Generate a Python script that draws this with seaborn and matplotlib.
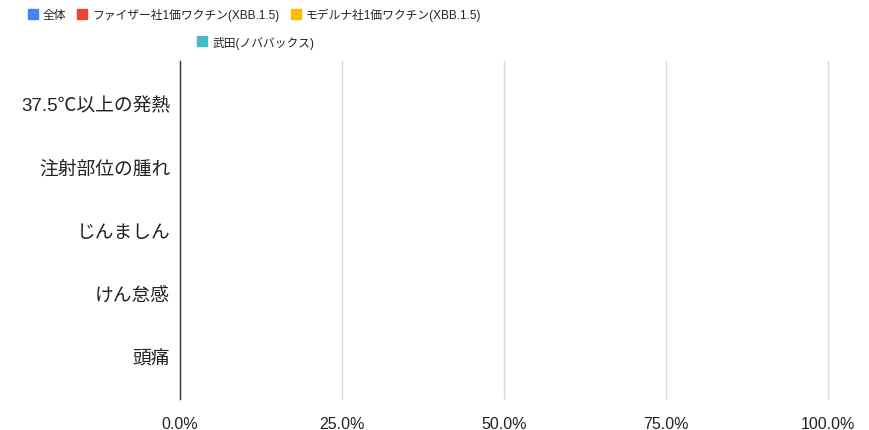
import numpy as np
import pandas as pd
import matplotlib
matplotlib.use("Agg")
import matplotlib.pyplot as plt
from matplotlib.lines import Line2D
from matplotlib.ticker import PercentFormatter
import seaborn as sns

symptoms = ["37.5℃以上の発熱", "注射部位の腫れ", "じんましん", "けん怠感", "頭痛"]
groups = ["全体", "ファイザー社1価ワクチン(XBB.1.5)", "モデルナ社1価ワクチン(XBB.1.5)", "武田(ノババックス)"]
# すべて0%(バーは表示されない)
all_vals = [0.0, 0.0, 0.0, 0.0, 0.0]
pfizer_vals = [0.0, 0.0, 0.0, 0.0, 0.0]
moderna_vals = [0.0, 0.0, 0.0, 0.0, 0.0]
takeda_vals = [0.0, 0.0, 0.0, 0.0, 0.0]
colors = ["#4285F4", "#EA4335", "#FBBC04", "#46BDC6"]

df = pd.DataFrame({
    "symptom": symptoms * 4,
    "group": np.repeat(groups, len(symptoms)),
    "value": all_vals + pfizer_vals + moderna_vals + takeda_vals,
})

sns.set_style("white")
plt.rcParams["font.family"] = ["Liberation Sans", "Noto Sans CJK JP", "DejaVu Sans"]

fig = plt.figure(figsize=(8.69, 4.31), dpi=100)
ax = fig.add_axes([180 / 869, 1 - 400 / 431, 648 / 869, 338 / 431])

sns.barplot(data=df, y="symptom", x="value", hue="group", palette=colors,
            orient="h", ax=ax, legend=False, saturation=1)

ax.set_xlim(0, 1)
ax.set_ylim(4.67, -0.68)
ax.set_xticks([0, 0.25, 0.5, 0.75, 1.0])
ax.xaxis.set_major_formatter(PercentFormatter(1.0, decimals=1))
ax.grid(axis="x", color="#d9d9d9", lw=1)
for gl in ax.get_xgridlines():
    gl.set_clip_on(False)
ax.set_axisbelow(True)
for s in ["top", "right", "bottom"]:
    ax.spines[s].set_visible(False)
ax.spines["left"].set_color("#333333")
ax.spines["left"].set_linewidth(1)
ax.spines["left"].set_zorder(3)
ax.tick_params(axis="x", length=0, pad=12, labelsize=11.5, labelcolor="#222222")
ax.tick_params(axis="y", length=0, pad=7, labelsize=13.5, labelcolor="#222222")
ax.set_xlabel("")
ax.set_ylabel("")

handles = [Line2D([], [], marker="s", ls="", color=c, markersize=7) for c in colors]
leg_kw = dict(frameon=False, fontsize=8.5, handlelength=0.7, handletextpad=0.5,
              columnspacing=1.0, borderpad=0, loc="center")
leg1 = fig.legend(handles[:3], groups[:3], ncol=3,
                  bbox_to_anchor=(255 / 869, 1 - 15 / 431), **leg_kw)
leg2 = fig.legend(handles[3:], groups[3:], ncol=1,
                  bbox_to_anchor=(256 / 869, 1 - 43 / 431), **leg_kw)
for t in leg1.get_texts() + leg2.get_texts():
    t.set_color("#222222")

fig.savefig("out.png", dpi=100)
